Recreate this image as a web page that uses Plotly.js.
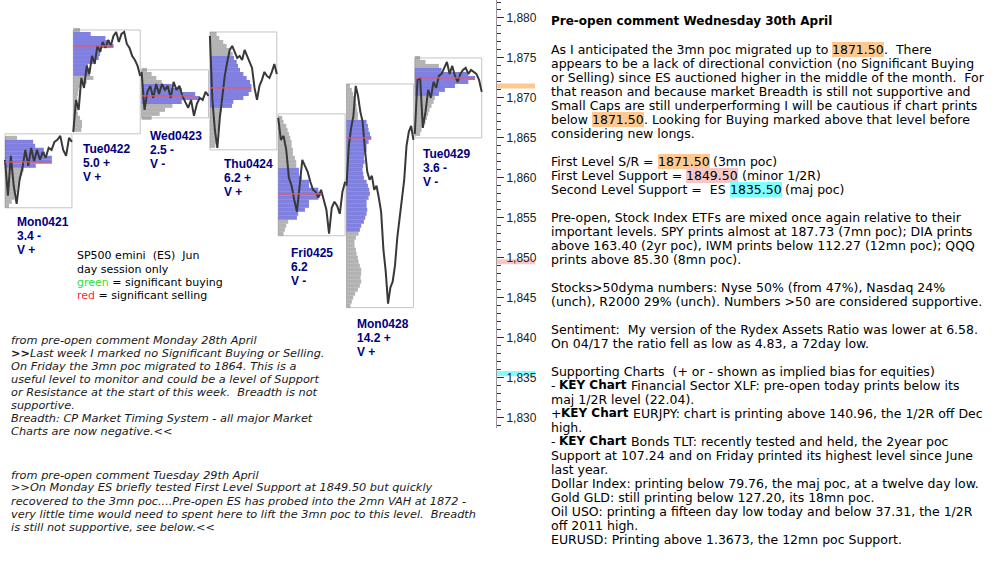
<!DOCTYPE html>
<html>
<head>
<meta charset="utf-8">
<script src="https://cdn.plot.ly/plotly-3.0.1.min.js"></script>
<style>
  body { margin: 0; background: #fff; }
  #chart { width: 998px; height: 588px; }
</style>
</head>
<body>
<div id="chart"></div>
<script>
// ES day-session market profiles, 21-29 April
var days = ['Mon0421', 'Tue0422', 'Wed0423', 'Thu0424', 'Fri0425', 'Mon0428', 'Tue0429'];
var rangeNote = ['3.4 -', '5.0 +', '2.5 -', '6.2 +', '6.2', '14.2 +', '3.6 -'];
var volNote = ['V +', 'V +', 'V -', 'V +', 'V -', 'V +', 'V -'];

var dayHigh = [1865.5, 1878.5, 1873.5, 1878.25, 1868, 1871.75, 1875];
var dayLow = [1856.25, 1865.5, 1867.5, 1863.5, 1852.75, 1843.75, 1865];
var poc = [1862, 1876.5, 1870.25, 1871.25, 1858, 1865, 1872.5];
var vaLow = [1861.5, 1873, 1869.5, 1869, 1855, 1853.5, 1870.5];
var vaHigh = [1864.5, 1878, 1871.5, 1875, 1861, 1867, 1873.5];

// profile: first price level of each day, then relative width per 0.5 pt
var profStart = [1856.5, 1866, 1867.5, 1864, 1853, 1844, 1865.5];
var prof0421 = [0.06,0.10,0.14,0.17,0.18,0.19,0.20,0.24,0.26,0.28,0.46,0.70,0.70,0.60,0.58,0.45,0.42,0.18];
var prof0422 = [0.12,0.13,0.13,0.10,0.07,0.06,0.06,0.06,0.06,0.07,0.08,0.10,0.20,0.30,0.25,0.24,0.22,0.30,0.38,0.40,0.42,0.60,0.55,0.48,0.26,0.10];
var prof0423 = [0.15,0.27,0.35,0.46,0.60,0.87,0.80,0.60,0.45,0.30,0.22,0.15,0.08];
var prof0424 = [0.08,0.09,0.10,0.11,0.12,0.14,0.15,0.15,0.16,0.18,0.33,0.35,0.50,0.58,0.62,0.62,0.60,0.55,0.50,0.45,0.42,0.40,0.36,0.34,0.30,0.25,0.20,0.14,0.10];
var prof0425 = [0.08,0.10,0.12,0.15,0.28,0.30,0.40,0.46,0.46,0.60,0.65,0.60,0.46,0.46,0.35,0.31,0.31,0.27,0.27,0.25,0.22,0.22,0.20,0.20,0.18,0.16,0.14,0.12,0.08,0.06];
var prof0428 = [0.06,0.08,0.10,0.13,0.17,0.20,0.22,0.21,0.22,0.22,0.20,0.18,0.17,0.15,0.14,0.12,0.12,0.14,0.18,
                0.20,0.22,0.26,0.28,0.30,0.31,0.30,0.30,0.33,0.35,0.34,0.32,0.30,0.26,0.25,0.24,0.25,0.27,0.26,0.27,0.30,0.30,0.33,0.37,0.35,0.33,0.32,0.30,
                0.17,0.17,0.16,0.15,0.14,0.12,0.10,0.08,0.05];
var prof0429 = [0.08,0.10,0.13,0.16,0.18,0.20,0.22,0.25,0.28,0.30,0.36,0.45,0.60,0.80,0.90,0.80,0.40,0.36,0.16,0.08];

// ES price through each session
var es0421 = [1862.25,1857.75,1862.75,1859,1856.75,1859.75,1861.25,1863.5,1861.5,1863.75,1862,1863.5,1862.25,1863.25,1862.5,1863.75,1863.5,1864.5,1864.75,1865.25,1863.5,1862.75,1865,1864.5];
var es0422 = [1865.75,1869.75,1868.5,1872.5,1871.25,1874,1873,1875.25,1874.25,1876.5,1875.75,1877,1876.25,1877.25,1876.5,1877.75,1878.25,1877,1878,1878.25,1876.75,1876.25,1875.25,1874.75,1874,1872.75];
var es0423 = [1873.25,1868.5,1870.75,1871.5,1870,1871.75,1870.5,1871.75,1871,1871.5,1870,1872,1871,1871.5,1870.25,1869.5,1868.75,1869.75,1867.75,1869.25,1870,1869.75,1870.75,1870.25];
var es0424 = [1877.75,1869.75,1866,1863.75,1867.5,1870.25,1872.75,1874.5,1876,1876.5,1875.75,1875,1875.25,1874.75,1876,1875.25,1874.5,1873.75,1871.25,1869.75,1871.5,1872.25,1873.25,1872.75,1872.5,1873.25,1874.25,1873];
var es0425 = [1867.5,1864.75,1865.25,1863.5,1860,1859,1857.25,1855.75,1859,1862.25,1861.5,1860.75,1859.5,1858.5,1858.25,1857.5,1858.5,1857.25,1856,1853,1856.25,1857,1856.5,1855.5,1858.25,1859.5];
var es0428 = [1859,1864,1866.25,1867.75,1871.5,1870.25,1868.25,1867,1863.5,1860.75,1859.75,1860.25,1858.5,1859,1857.5,1855.75,1851,1848.25,1844.25,1846.25,1847,1849,1852.5,1855,1857.5,1859.75,1864,1865.75,1866.5,1864.75];
var es0429 = [1865.5,1872.25,1872.5,1866.25,1868.25,1871,1870,1872,1871.25,1872.75,1873,1873.75,1874.5,1873,1874,1872.75,1872,1873,1873.5,1873.75,1873,1873.5,1873.25,1873,1872.25,1870.75];

var levels = [1871.5, 1849.5, 1835.5];
var levelColors = ['#ffc890', '#f8c6c6', '#80ffff'];

var profiles = [prof0421, prof0422, prof0423, prof0424, prof0425, prof0428, prof0429];
var prices = [es0421, es0422, es0423, es0424, es0425, es0428, es0429];

var PW = 496, PH = 428;   // plot area in pixels
var BW = 0.98;            // session box width in day units
var FONT = 'DejaVu Sans, Verdana, sans-serif';

var traces = [];
var shapes = [];
var annotations = [];

// price lines first so the profiles tint them
days.forEach(function (d, i) {
  var p = prices[i];
  traces.push({
    type: 'scatter', mode: 'lines',
    x: p.map(function (_, k) { return i + BW * k / (p.length - 1); }),
    y: p,
    line: { color: '#383838', width: 2 },
    hoverinfo: 'skip'
  });
});

days.forEach(function (d, i) {
  var w = profiles[i];
  var ys = w.map(function (_, k) { return profStart[i] + 0.5 * k; });
  traces.push({
    type: 'bar', orientation: 'h',
    y: ys,
    x: w.map(function (v) { return v * BW; }),
    base: i,
    width: 0.5,
    marker: {
      color: ys.map(function (y) {
        return (y >= vaLow[i] && y <= vaHigh[i]) ? 'rgba(50,50,205,0.62)' : 'rgba(120,120,120,0.56)';
      }),
      line: { width: 0 }
    },
    hoverinfo: 'skip'
  });
});

days.forEach(function (d, i) {
  var k = Math.round((poc[i] - profStart[i]) / 0.5);
  var w = profiles[i][Math.min(Math.max(k, 0), profiles[i].length - 1)];
  traces.push({
    type: 'scatter', mode: 'lines',
    x: [i, i + w * BW], y: [poc[i], poc[i]],
    line: { color: '#ff5050', width: 1.2 },
    hoverinfo: 'skip'
  });
  shapes.push({
    type: 'rect', xref: 'x', yref: 'y', layer: 'below',
    x0: i, x1: i + BW, y0: dayLow[i], y1: dayHigh[i],
    line: { color: '#c4c4c4', width: 1 }, fillcolor: 'rgba(0,0,0,0)'
  });
});

levels.forEach(function (lv, i) {
  shapes.push({
    type: 'rect', xref: 'paper', yref: 'y', layer: 'below',
    x0: 1, x1: 535 / PW, y0: lv - 0.31, y1: lv + 0.31,
    line: { width: 0 }, fillcolor: levelColors[i]
  });
});

function ann(px, py, text, font, extra) {
  var a = {
    xref: 'paper', yref: 'paper', x: px / PW, y: 1 - py / PH,
    xanchor: 'left', yanchor: 'middle', showarrow: false, align: 'left',
    text: text, font: font, borderpad: 0, borderwidth: 0
  };
  for (var key in extra) a[key] = extra[key];
  return a;
}

// session labels
var labelPos = [[17, 222], [83, 149], [150, 136], [224, 164], [291, 253], [357, 324], [423, 154]];
var lblFont = { family: 'Liberation Sans, Arial, sans-serif', size: 12, color: '#000080' };
days.forEach(function (d, i) {
  var p = labelPos[i];
  annotations.push(ann(p[0], p[1], '<b>' + d + '</b>', lblFont));
  annotations.push(ann(p[0], p[1] + 14, '<b>' + rangeNote[i] + '</b>', lblFont));
  annotations.push(ann(p[0], p[1] + 28, '<b>' + volNote[i] + '</b>', lblFont));
});

// legend block
var legFont = { family: FONT, size: 11, color: '#000' };
[
  'SP500 emini \u00a0(ES) \u00a0Jun',
  'day session only',
  '<span style="color:#2fe02f">green</span> = significant buying',
  '<span style="color:#ff2a2a">red</span> = significant selling'
].forEach(function (t, k) { annotations.push(ann(77, 256 + 13 * k, t, legFont)); });

// earlier comments (italic)
var itFont = { family: FONT, size: 11.3, color: '#1a1a1a' };
[
  'from pre-open comment Monday 28th April',
  '<b>&gt;&gt;</b>Last week I marked no Significant Buying or Selling.',
  'On Friday the 3mn poc migrated to 1864. This is a',
  'useful level to monitor and could be a level of Support',
  'or Resistance at the start of this week. \u00a0Breadth is not',
  'supportive.',
  'Breadth: CP Market Timing System - all major Market',
  'Charts are now negative.&lt;&lt;'
].forEach(function (t, k) { annotations.push(ann(10.5, 340 + 13 * k, '<i>' + t + '</i>', itFont)); });
[
  'from pre-open comment Tuesday 29th April',
  '&gt;&gt;On Monday ES briefly tested First Level Support at 1849.50 but quickly',
  'recovered to the 3mn poc....Pre-open ES has probed into the 2mn VAH at 1872 -',
  'very little time would need to spent here to lift the 3mn poc to this level. \u00a0Breadth',
  'is still not supportive, see below.&lt;&lt;'
].forEach(function (t, k) { annotations.push(ann(10.5, 475 + 13 * k, '<i>' + t + '</i>', itFont)); });

// right-hand commentary, one row per line, highlights as separate pieces
var O = '#ffc890', P = '#f8c6c6', C = '#80ffff';
var rightLines = [
  [-2, [{ t: 'Pre-open comment Wednesday 30th April', b: true }]],
  [0, ['As I anticipated the 3mn poc migrated up to ', { t: '1871.50', bg: O }, '.  There']],
  [1, ['appears to be a lack of directional conviction (no Significant Buying']],
  [2, ['or Selling) since ES auctioned higher in the middle of the month.  For']],
  [3, ['that reason and because market Breadth is still not supportive and']],
  [4, ['Small Caps are still underperforming I will be cautious if chart prints']],
  [5, ['below ', { t: '1871.50', bg: O }, '. Looking for Buying marked above that level before']],
  [6, ['considering new longs.']],
  [8, ['First Level S/R = ', { t: '1871.50', bg: O }, ' (3mn poc)']],
  [9, ['First Level Support = ', { t: '1849.50', bg: P }, ' (minor 1/2R)']],
  [10, ['Second Level Support =  ES ', { t: '1835.50', bg: C }, ' (maj poc)']],
  [12, ['Pre-open, Stock Index ETFs are mixed once again relative to their']],
  [13, ['important levels. SPY prints almost at 187.73 (7mn poc); DIA prints']],
  [14, ['above 163.40 (2yr poc), IWM prints below 112.27 (12mn poc); QQQ']],
  [15, ['prints above 85.30 (8mn poc).']],
  [17, ['Stocks>50dyma numbers: Nyse 50% (from 47%), Nasdaq 24%']],
  [18, ['(unch), R2000 29% (unch). Numbers >50 are considered supportive.']],
  [20, ['Sentiment:  My version of the Rydex Assets Ratio was lower at 6.58.']],
  [21, ['On 04/17 the ratio fell as low as 4.83, a 72day low.']],
  [23, ['Supporting Charts  (+ or - shown as implied bias for equities)']],
  [24, ['- ', { t: 'KEY Chart', b: true }, ' Financial Sector XLF: pre-open today prints below its']],
  [25, ['maj 1/2R level (22.04).']],
  [26, ['+', { t: 'KEY Chart', b: true }, ' EURJPY: chart is printing above 140.96, the 1/2R off Dec']],
  [27, ['high.']],
  [28, ['- ', { t: 'KEY Chart', b: true }, ' Bonds TLT: recently tested and held, the 2year poc']],
  [29, ['Support at 107.24 and on Friday printed its highest level since June']],
  [30, ['last year.']],
  [31, ['Dollar Index: printing below 79.76, the maj poc, at a twelve day low.']],
  [32, ['Gold GLD: still printing below 127.20, its 18mn poc.']],
  [33, ['Oil USO: printing a fifteen day low today and below 37.31, the 1/2R']],
  [34, ['off 2011 high.']],
  [35, ['EURUSD: Printing above 1.3673, the 12mn poc Support.']]
];

var ctx = document.createElement('canvas').getContext('2d');
function textWidth(s, bold) {
  ctx.font = (bold ? 'bold 12px ' : '12.5px ') + '"DejaVu Sans"';
  return ctx.measureText(s).width;
}
function esc(s) { return s.replace(/&/g, '&amp;').replace(/</g, '&lt;').replace(/>/g, '&gt;'); }

rightLines.forEach(function (row) {
  var py = 49.3 + 14 * row[0];
  var x = 551;
  row[1].forEach(function (seg) {
    if (typeof seg === 'string') seg = { t: seg };
    var lead = seg.t.match(/^ */)[0];
    var rest = seg.t.slice(lead.length);
    x += textWidth(lead, seg.b);
    var shown = rest.replace(/\s+$/, '').replace(/  /g, ' \u00a0');
    if (shown.length) {
      var f = { family: FONT, size: seg.b ? 12 : 12.5, color: '#000' };
      var extra = seg.bg ? { bgcolor: seg.bg } : {};
      annotations.push(ann(x, py, seg.b ? '<b>' + esc(shown) + '</b>' : esc(shown), f, extra));
    }
    x += textWidth(rest, seg.b);
  });
});

var layout = {
  width: 998, height: 588,
  margin: { l: 0, r: 998 - PW, t: 0, b: 588 - PH, pad: 0 },
  paper_bgcolor: '#fff', plot_bgcolor: '#fff',
  showlegend: false,
  barmode: 'overlay',
  xaxis: { range: [-5 / 68.3, 491 / 68.3], visible: false, fixedrange: true },
  yaxis: {
    side: 'right', range: [1828.69, 1882.25], automargin: false, fixedrange: true,
    tickmode: 'linear', tick0: 1830, dtick: 5, tickformat: ',d',
    ticks: 'outside', ticklen: 7, tickwidth: 1, tickcolor: '#333',
    showline: true, linecolor: '#9a9a9a', linewidth: 1,
    showgrid: false, zeroline: false,
    tickfont: { family: 'Liberation Sans, Arial, sans-serif', size: 12, color: '#222' },
    minor: { tick0: 1830, dtick: 1, ticks: 'outside', ticklen: 4, tickcolor: '#333', showgrid: false }
  },
  shapes: shapes,
  annotations: annotations
};

Plotly.newPlot('chart', traces, layout, { displayModeBar: false, staticPlot: true });
</script>
</body>
</html>
